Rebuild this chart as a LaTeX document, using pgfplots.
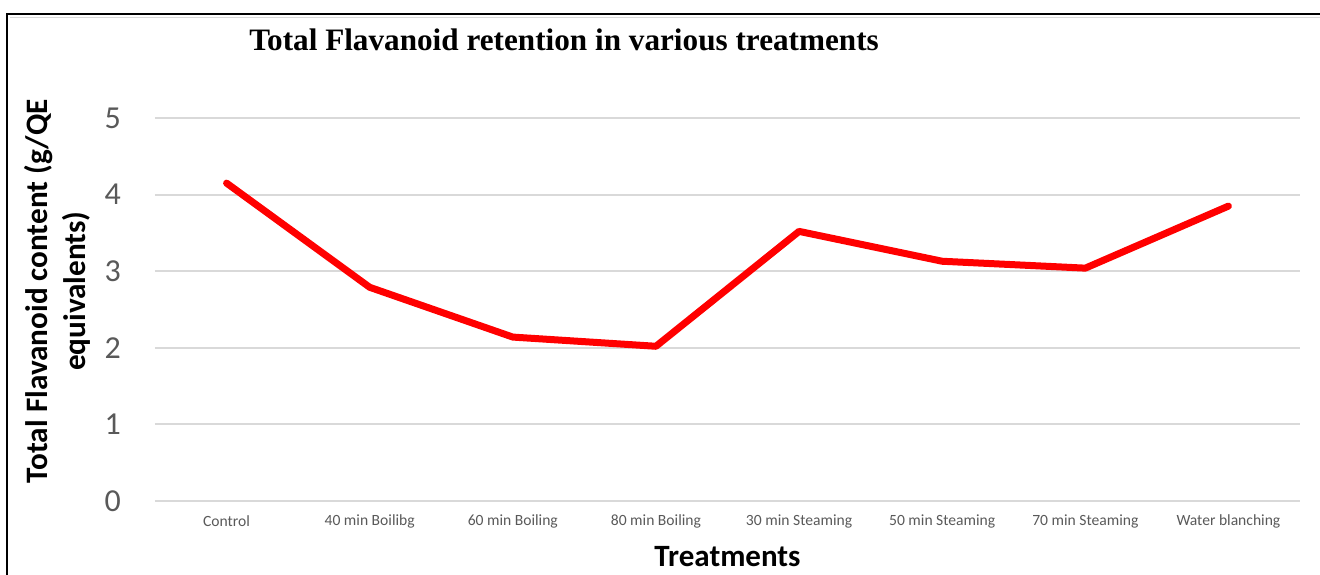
\documentclass[border=0pt]{standalone}
\usepackage{fontspec}
\setmainfont{Carlito}
\newfontfamily\timesfont{Liberation Serif}
\usepackage{pgfplots}
\pgfplotsset{compat=1.18}
\definecolor{ticktext}{HTML}{595959}
\definecolor{gridc}{HTML}{D9D9D9}
\begin{document}
\begin{tikzpicture}
\path[use as bounding box] (-77.5pt,-36.5pt) rectangle (582.5pt,250.5pt);
\begin{axis}[
  at={(0,0)}, anchor=south west,
  scale only axis,
  width=572.5pt, height=191.5pt,
  xmin=-0.5, xmax=7.5, ymin=0, ymax=5,
  axis line style={draw=none},
  tick style={draw=none},
  ytick={0,1,2,3,4,5},
  xtick={0,...,7},
  xticklabels={Control,40 min Boilibg,60 min Boiling,80 min Boiling,30 min Steaming,50 min Steaming,70 min Steaming,Water blanching},
  ymajorgrids,
  grid style={gridc, line width=1pt},
  /pgf/number format/assume math mode=true,
  yticklabel style={font=\fontsize{16}{18}\selectfont, text=ticktext, anchor=east, xshift=-13.5pt},
  xticklabel style={font=\fontsize{7.8}{9}\selectfont, text=ticktext, anchor=center, yshift=-10pt},
  xlabel={Treatments},
  xlabel style={font=\fontsize{15.5}{17}\selectfont\bfseries, at={(axis description cs:0.5,0)}, anchor=center, yshift=-28pt},
  ylabel={Total Flavanoid content (g/QE\\equivalents)},
  ylabel style={font=\fontsize{15.6}{19}\selectfont\bfseries, align=center, at={(axis description cs:-0.0856,0.548)}, anchor=center},
  clip=false,
]
\addplot[color=red, line width=3.5pt, line join=round, line cap=round] coordinates {
  (0,4.15) (1,2.79) (2,2.14) (3,2.02) (4,3.52) (5,3.13) (6,3.04) (7,3.85)
};
\end{axis}
\draw[gridc, line width=0.8pt] (584pt,241.8pt) -- (-72.5pt,241.8pt);
\draw[black, line width=1pt] (584pt,243.5pt) -- (-74pt,243.5pt) -- (-74pt,-40pt);
\node[font=\timesfont\bfseries\fontsize{15.6}{18}\selectfont, anchor=center] at (204.5pt,230.5pt) {Total Flavanoid retention in various treatments};
\end{tikzpicture}
\end{document}
